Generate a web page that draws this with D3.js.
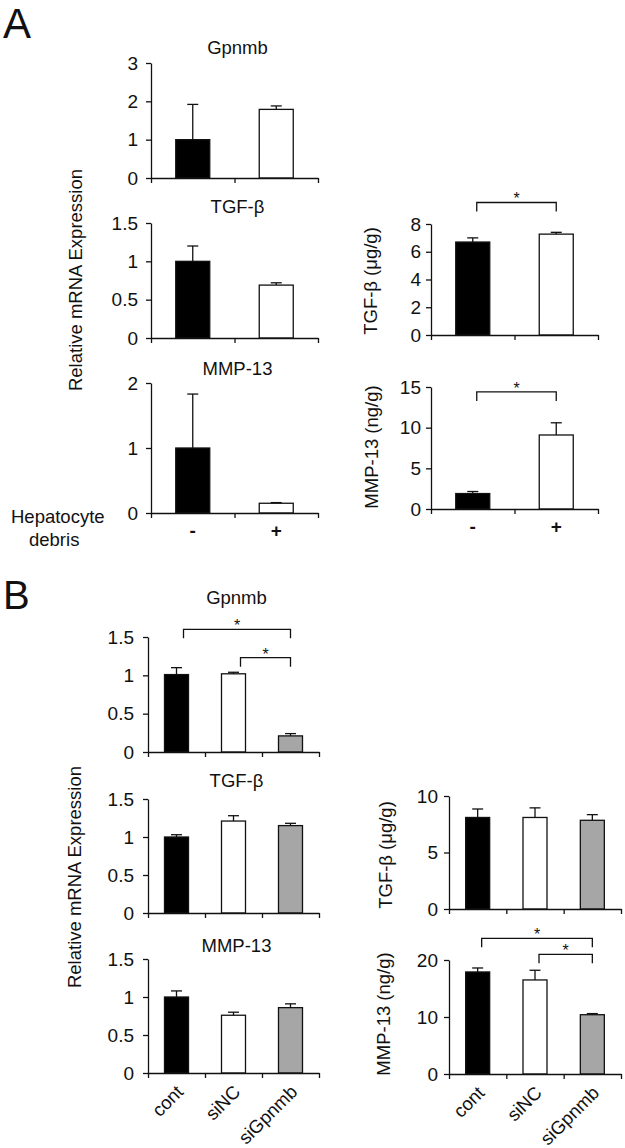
<!DOCTYPE html>
<html><head><meta charset="utf-8">
<script src="https://cdn.jsdelivr.net/npm/d3@7"></script>
<style>
body{margin:0;background:#fff}
svg{display:block}
text{font-family:"Liberation Sans",Arial,sans-serif;fill:#111}
</style>
</head><body><svg id="c" width="625" height="1148"></svg>
<script>
// ---------- data ----------
const groupsA = ["-", "+"];
const groupsB = ["cont", "siNC", "siGpnmb"];
const fillsA = ["#000000", "#ffffff"];
const fillsB = ["#000000", "#ffffff", "#a6a6a6"];

const aGpnmbMrna = [1.0, 1.79];
const aGpnmbMrnaErr = [0.92, 0.09];
const aTgfMrna = [1.0, 0.69];
const aTgfMrnaErr = [0.2, 0.03];
const aMmpMrna = [1.0, 0.15];
const aMmpMrnaErr = [0.83, 0.01];
const aTgfProt = [6.7, 7.27];
const aTgfProtErr = [0.3, 0.13];
const aMmpProt = [1.9, 9.1];
const aMmpProtErr = [0.25, 1.5];

const bGpnmbMrna = [1.01, 1.02, 0.21];
const bGpnmbMrnaErr = [0.09, 0.02, 0.03];
const bTgfMrna = [1.0, 1.21, 1.15];
const bTgfMrnaErr = [0.03, 0.07, 0.03];
const bMmpMrna = [1.0, 0.76, 0.86];
const bMmpMrnaErr = [0.08, 0.04, 0.05];
const bTgfProt = [8.1, 8.1, 7.85];
const bTgfProtErr = [0.75, 0.85, 0.5];
const bMmpProt = [17.9, 16.5, 10.4];
const bMmpProtErr = [0.7, 1.7, 0.2];

const ticksGpnmbA = [0, 1, 2, 3];
const ticks15 = [0, 0.5, 1, 1.5];
const ticksMmpA = [0, 1, 2];
const ticksTgfProtA = [0, 2, 4, 6, 8];
const ticksMmpProtA = [0, 5, 10, 15];
const ticksTgfProtB = [0, 5, 10];
const ticksMmpProtB = [0, 10, 20];

const titleGpnmb = "Gpnmb", titleTgf = "TGF-\u03b2", titleMmp = "MMP-13";
const yLabelMrna = "Relative mRNA Expression";
const yLabelTgfProt = "TGF-\u03b2  (\u03bcg/g)";
const yLabelMmpProt = "MMP-13  (ng/g)";

// ---------- drawing ----------
const svg = d3.select("#c");
const INK = "#111";

function panel(c) {
  const x = d3.scaleBand().domain(c.groups).range([c.x0, c.x1]);
  const y = d3.scaleLinear().domain([0, c.max]).range([c.yBot, c.yTop]);
  const g = svg.append("g");
  const cx = i => x(c.groups[i]) + x.bandwidth() / 2;

  // bars
  g.selectAll("rect").data(c.values).join("rect")
    .attr("x", (d, i) => cx(i) - c.barW / 2)
    .attr("y", d => y(d))
    .attr("width", c.barW)
    .attr("height", d => c.yBot - y(d))
    .attr("fill", (d, i) => c.fills[i])
    .attr("stroke", INK).attr("stroke-width", 1.3);

  // error bars
  const eg = g.append("g").attr("stroke", INK).attr("stroke-width", 1.3);
  c.values.forEach((v, i) => {
    const top = y(v + c.errors[i]);
    eg.append("line").attr("x1", cx(i)).attr("x2", cx(i)).attr("y1", y(v)).attr("y2", top);
    eg.append("line").attr("x1", cx(i) - 5.5).attr("x2", cx(i) + 5.5).attr("y1", top).attr("y2", top);
  });

  // y axis
  const ya = g.append("g").attr("transform", `translate(${c.x0},0)`)
    .call(d3.axisLeft(y).tickValues(c.ticks).tickSize(5).tickPadding(c.pad).tickSizeOuter(0).tickFormat(d3.format("~g")));
  ya.selectAll("text").attr("font-size", 19).attr("font-family", null).attr("fill", INK);
  ya.selectAll("path,line").attr("stroke", INK).attr("stroke-width", 1.3);

  // x axis with ticks at category boundaries
  const xb = d3.scaleLinear().domain([0, c.groups.length]).range([c.x0, c.x1]);
  const xa = g.append("g").attr("transform", `translate(0,${c.yBot})`)
    .call(d3.axisBottom(xb).tickValues(d3.range(c.groups.length + 1)).tickSize(5).tickSizeOuter(0).tickFormat(""));
  xa.selectAll("path,line").attr("stroke", INK).attr("stroke-width", 1.3);

  // title
  if (c.title) {
    g.append("text").attr("x", (c.x0 + c.x1) / 2 + 3).attr("y", c.titleY)
      .attr("text-anchor", "middle").attr("font-size", 18.5).text(c.title);
  }

  // significance brackets
  (c.brackets || []).forEach(b => {
    const xa1 = cx(b.from) + b.off, xa2 = cx(b.to), yb = y(b.level);
    g.append("path")
      .attr("d", `M${xa1},${yb + 9}V${yb}H${xa2}V${yb + 9}`)
      .attr("fill", "none").attr("stroke", INK).attr("stroke-width", 1.3);
    g.append("text").attr("x", (xa1 + xa2) / 2).attr("y", yb + 2)
      .attr("text-anchor", "middle").attr("font-size", 16).text("*");
  });

  // category labels
  if (c.catLabels === "plusminus") {
    c.groups.forEach((d, i) => {
      g.append("text").attr("x", cx(i)).attr("y", c.yBot + 24)
        .attr("text-anchor", "middle").attr("font-size", 19).attr("font-weight", "bold").text(d);
    });
  } else if (c.catLabels === "rotated") {
    c.groups.forEach((d, i) => {
      g.append("text")
        .attr("transform", `translate(${cx(i) + 8},${c.yBot + 20}) rotate(-45)`)
        .attr("text-anchor", "end").attr("font-size", 18.5).text(d);
    });
  }
  return { x, y };
}

function vlabel(text, x, y) {
  svg.append("text").attr("transform", `translate(${x},${y}) rotate(-90)`)
    .attr("text-anchor", "middle").attr("dominant-baseline", "central")
    .attr("font-size", 18.5).text(text);
}

// Panel letters
svg.append("text").attr("x", 3).attr("y", 38).attr("font-size", 42).text("A");
svg.append("text").attr("x", 3).attr("y", 609).attr("font-size", 40).text("B");

// ----- Panel A, left column -----
const AL = { x0: 151, x1: 318, barW: 34, pad: 8, groups: groupsA, fills: fillsA };
panel({ ...AL, yTop: 63, yBot: 178, max: 3, ticks: ticksGpnmbA, values: aGpnmbMrna, errors: aGpnmbMrnaErr, title: titleGpnmb, titleY: 54 });
panel({ ...AL, yTop: 223, yBot: 338, max: 1.5, ticks: ticks15, values: aTgfMrna, errors: aTgfMrnaErr, title: titleTgf, titleY: 213 });
panel({ ...AL, yTop: 383, yBot: 513, max: 2, ticks: ticksMmpA, values: aMmpMrna, errors: aMmpMrnaErr, title: titleMmp, titleY: 375, catLabels: "plusminus" });
vlabel(yLabelMrna, 75, 280);
svg.append("text").attr("x", 11).attr("y", 523).attr("font-size", 18.5).text("Hepatocyte");
svg.append("text").attr("x", 29).attr("y", 546).attr("font-size", 18.5).text("debris");

// ----- Panel A, right column -----
const AR = { x0: 431, x1: 598, barW: 34, pad: 5, groups: groupsA, fills: fillsA };
panel({ ...AR, yTop: 224, yBot: 335, max: 8, ticks: ticksTgfProtA, values: aTgfProt, errors: aTgfProtErr,
  brackets: [{ from: 0, to: 1, off: 4, level: 9.55 }] });
panel({ ...AR, yTop: 387, yBot: 509, max: 15, ticks: ticksMmpProtA, values: aMmpProt, errors: aMmpProtErr, catLabels: "plusminus",
  brackets: [{ from: 0, to: 1, off: 4, level: 14.4 }] });
vlabel(yLabelTgfProt, 370, 281);
vlabel(yLabelMmpProt, 371, 447);

// ----- Panel B, left column -----
const BL = { x0: 148, x1: 319, barW: 24, pad: 9, groups: groupsB, fills: fillsB };
panel({ ...BL, yTop: 637, yBot: 752, max: 1.5, ticks: ticks15, values: bGpnmbMrna, errors: bGpnmbMrnaErr, title: titleGpnmb, titleY: 604,
  brackets: [{ from: 0, to: 2, off: 7, level: 1.6 }, { from: 1, to: 2, off: 7, level: 1.23 }] });
panel({ ...BL, yTop: 799, yBot: 913, max: 1.5, ticks: ticks15, values: bTgfMrna, errors: bTgfMrnaErr, title: titleTgf, titleY: 787 });
panel({ ...BL, yTop: 959, yBot: 1073, max: 1.5, ticks: ticks15, values: bMmpMrna, errors: bMmpMrnaErr, title: titleMmp, titleY: 952, catLabels: "rotated" });
vlabel(yLabelMrna, 74, 877);

// ----- Panel B, right column -----
const BR = { x0: 449, x1: 621, barW: 24, pad: 6, groups: groupsB, fills: fillsB };
panel({ ...BR, yTop: 796, yBot: 909, max: 10, ticks: ticksTgfProtB, values: bTgfProt, errors: bTgfProtErr });
panel({ ...BR, yTop: 960, yBot: 1074, max: 20, ticks: ticksMmpProtB, values: bMmpProt, errors: bMmpProtErr, catLabels: "rotated",
  brackets: [{ from: 0, to: 2, off: 4, level: 23.8 }, { from: 1, to: 2, off: 4, level: 21.0 }] });
vlabel(yLabelTgfProt, 385, 855);
vlabel(yLabelMmpProt, 383, 1014);
</script>
</body></html>
